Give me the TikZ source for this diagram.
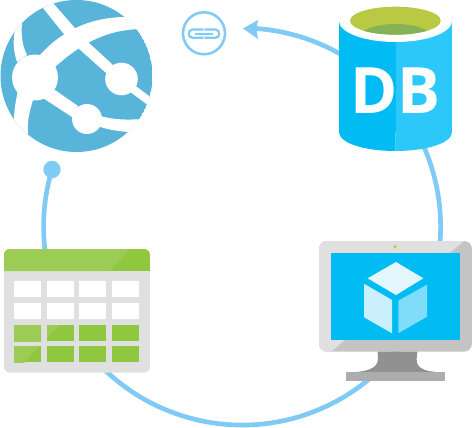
\documentclass[tikz,border=0pt]{standalone}
\usepackage{fontspec}
\setmainfont{Open Sans}
\definecolor{ring}{HTML}{7FCBF5}
\definecolor{globe}{HTML}{59B4D9}
\definecolor{azure}{HTML}{00BCF2}
\definecolor{azurelt}{HTML}{2BC8F9}
\definecolor{olive}{HTML}{BAC944}
\definecolor{olivedk}{HTML}{86B255}
\definecolor{leaf}{HTML}{8FC73E}
\definecolor{leaflt}{HTML}{9CCC55}
\definecolor{panel}{HTML}{E0E0E0}
\definecolor{paneldk}{HTML}{C4C4C4}
\definecolor{standdk}{HTML}{919191}
\definecolor{standlt}{HTML}{ADADAD}
\definecolor{cubetop}{HTML}{E5F7FE}
\definecolor{cubeleft}{HTML}{CBF0FD}
\definecolor{cuberight}{HTML}{80DDF9}
\tikzset{
  ringline/.style={draw=ring,line width=3.5pt},
  chain/.style={draw=ring,line width=1.7pt,rounded corners=2.8pt}
}
\begin{document}
\begin{tikzpicture}[x=0.75pt,y=-0.75pt]
\useasboundingbox (0,0) rectangle (472,428);
% ring and ends
\node[circle,fill=ring,minimum size=13pt,inner sep=0pt] (dot) at (52,169.5) {};
\draw[ringline] (dot.center) arc[start angle=196.7,end angle=-86.5,radius=198.5];
\fill[ring] (243,28.5) -- (258,20) -- (256.5,29.5) -- (258,39) -- cycle;
% globe
\begin{scope}
\clip (76.5,76) circle[radius=76];
\fill[globe] (76.5,76) circle[radius=76];
\fill[white] (43,8) -- (53,3) -- (74,27) -- (88,42) -- (113,65) -- (137,87) -- (165,108) -- (165,118) -- (125,88) -- (105,72) -- (78,48) -- (63,33) -- cycle;
\fill[white] (40,55) .. controls (58,35) and (85,17) .. (127,17) -- (140,29) .. controls (110,30) and (85,40) .. (55,67) -- cycle;
\fill[white] (15,30) .. controls (13,40) and (13,50) .. (17,62) -- (27,55) .. controls (22,45) and (21,35) .. (22,23) -- cycle;
\fill[white] (18,90) .. controls (16,100) and (14,110) .. (14,120) -- (28,136) .. controls (27,122) and (29,112) .. (34,97) -- cycle;
\fill[white] (43,98) -- (72,117) -- (78,106) -- (55,90) -- cycle;
\fill[white] (100,116) .. controls (115,120) and (128,120) .. (142,119) -- (128,132) .. controls (118,131) and (108,130) .. (98,126) -- cycle;
\fill[white] (35,77.5) circle[radius=23];
\fill[white] (121.5,79) circle[radius=16.3];
\fill[white] (87,119) circle[radius=15];
\end{scope}
% link icon
\node[circle,draw=ring,line width=1.9pt,fill=white,minimum size=31.5pt,inner sep=0pt] (link) at (204,33.3) {};
\draw[chain] (203.5,29.6) -- (188.8,29.6) -- (188.8,37.8) -- (203.5,37.8);
\draw[chain] (204.5,29.6) -- (219.2,29.6) -- (219.2,37.8) -- (204.5,37.8);
\draw[ring,line width=1.7pt] (195,33.7) -- (213,33.7);
% DB
\fill[azure] (339,21) rectangle (395.5,132);
\fill[azurelt] (395.5,21) rectangle (452,132);
\fill[azure] (395.5,132) -- (395.5,151) .. controls (364,151) and (339,143) .. (339,132) -- cycle;
\fill[azurelt] (395.5,132) -- (395.5,151) .. controls (427,151) and (452,143) .. (452,132) -- cycle;
\fill[white] (395.5,21) ellipse[x radius=56.5,y radius=21];
\fill[white] (338,0) rectangle (453,21);
\begin{scope}
\clip (395.5,20.7) ellipse[x radius=45.5,y radius=14];
\fill[olive] (395.5,20.7) ellipse[x radius=45.5,y radius=14];
\fill[olivedk] (395.5,38) ellipse[x radius=37,y radius=14];
\end{scope}
\node[text=white,font=\bfseries\fontsize{48pt}{48pt}\selectfont,inner sep=0pt] (db) at (395.5,91) {DB};
% table
\begin{scope}
\clip[rounded corners=4.5pt] (4,249) rectangle (150,372.7);
\fill[panel] (4,249) rectangle (150,372.7);
\fill[leaf] (4,249) rectangle (150,271);
\fill[leaflt] (4,249) -- (130,249) -- (109.6,271) -- (4,271) -- cycle;
\end{scope}
\foreach \xa/\xb in {14/41,47/74,79/106,112/139}{
  \foreach \ya/\yb in {281/297,303/319}{\fill[white] (\xa,\ya) rectangle (\xb,\yb);}
  \foreach \ya/\yb in {325/341,346/362}{
    \fill[leaf] (\xa,\ya) rectangle (\xb,\yb);
    \begin{scope}
      \clip (\xa,\ya) rectangle (\xb,\yb);
      \fill[leaflt] (0,249) -- (130,249) -- (15,372.7) -- (0,372.7) -- cycle;
    \end{scope}
  }
}
% monitor
\fill[paneldk,rounded corners=6pt] (319,241) rectangle (472,351.7);
\begin{scope}
\clip[rounded corners=6pt] (319,241) rectangle (472,351.7);
\fill[panel] (319,241) -- (464,241) -- (331,351.7) -- (319,351.7) -- cycle;
\end{scope}
\fill[azure] (331,252.7) rectangle (460,340);
\fill[olive] (395,246.7) circle[radius=1.8];
\fill[standdk] (377.5,351.7) -- (417.5,351.7) .. controls (416,362) and (414,370) .. (436,372) -- (356,372) .. controls (379,370) and (379,362) .. (377.5,351.7) -- cycle;
\fill[standlt] (346,372) rectangle (445,381);
\fill[cubetop] (396,262) -- (423.3,278.3) -- (396,295) -- (367.7,278.3) -- cycle;
\fill[cubeleft] (364,283.7) -- (392,300) -- (392,333.3) -- (364,317.3) -- cycle;
\fill[cuberight] (427,284.7) -- (398.3,300.7) -- (398.3,333.3) -- (427,316.7) -- cycle;
\end{tikzpicture}
\end{document}
